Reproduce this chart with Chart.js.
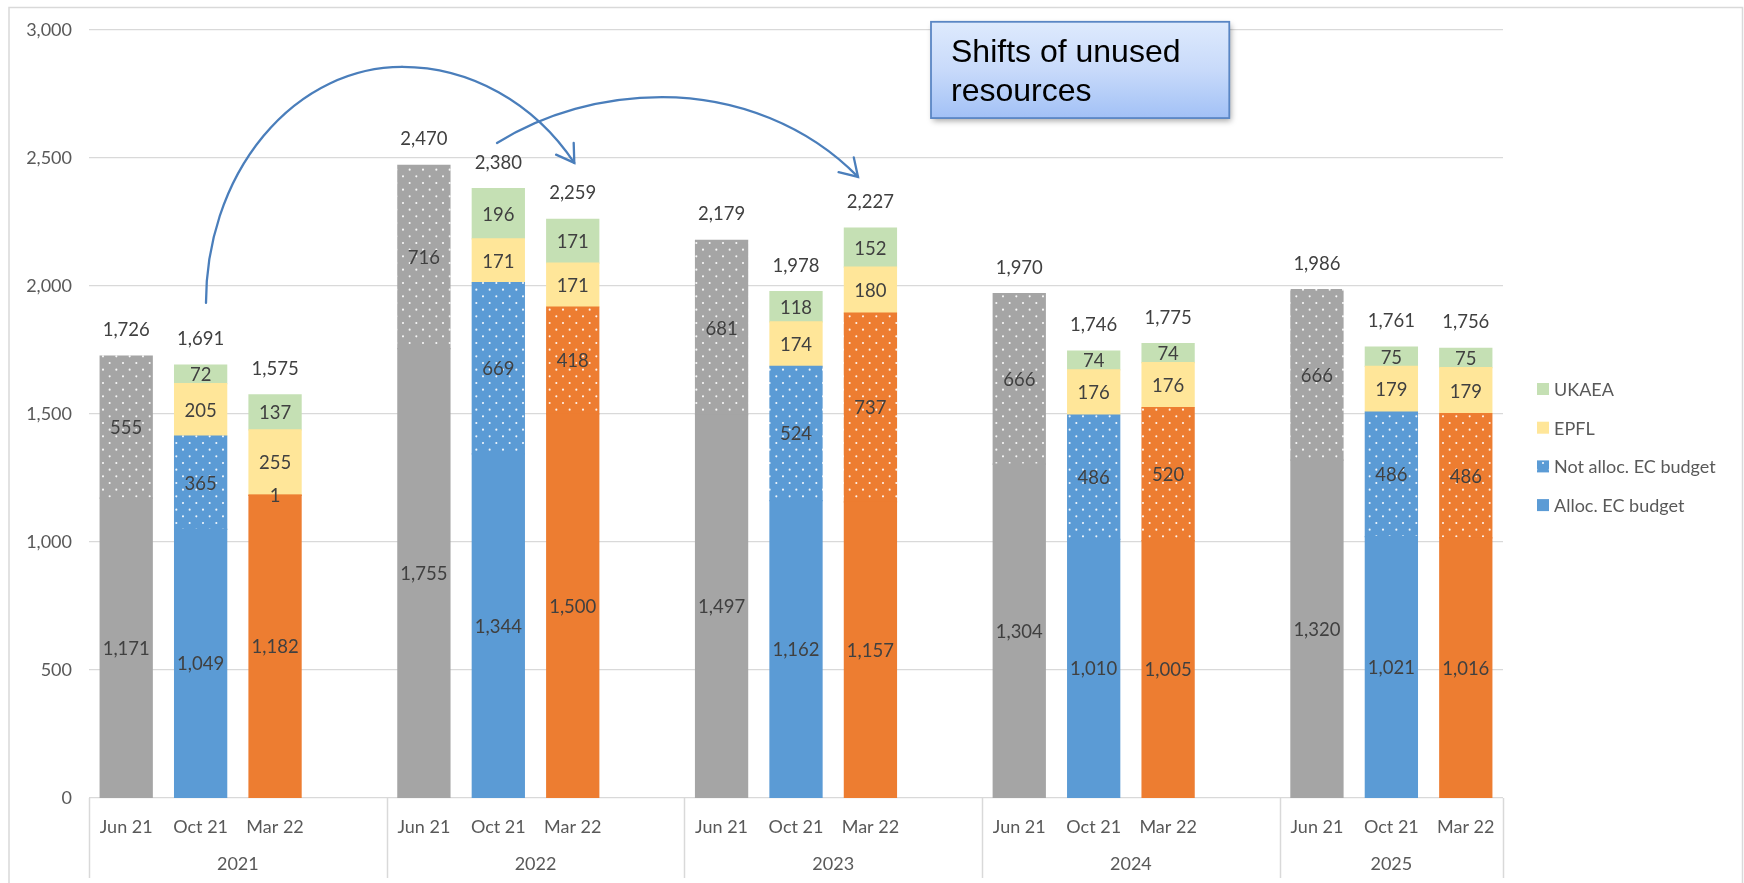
<!DOCTYPE html>
<html>
<head>
<meta charset="utf-8">
<script src="https://cdn.jsdelivr.net/npm/chart.js@4.4.1/dist/chart.umd.min.js"></script>
<style>
html,body{margin:0;padding:0;background:#fff;}
#wrap{width:1744px;height:883px;position:relative;}
</style>
</head>
<body>
<div id="wrap"><canvas id="c" width="1744" height="883"></canvas></div>
<script>
// ---------- DATA ----------
const years = ['2021', '2022', '2023', '2024', '2025'];
const periods = ['Jun 21', 'Oct 21', 'Mar 22'];
// 19 category slots: three periods per year, one empty slot between years
const categories = [
  'Jun 21', 'Oct 21', 'Mar 22', '',
  'Jun 21', 'Oct 21', 'Mar 22', '',
  'Jun 21', 'Oct 21', 'Mar 22', '',
  'Jun 21', 'Oct 21', 'Mar 22', '',
  'Jun 21', 'Oct 21', 'Mar 22'
];
const allocEC = [1171, 1049, 1182, null, 1755, 1344, 1500, null, 1497, 1162, 1157, null, 1304, 1010, 1005, null, 1320, 1021, 1016];
const notAllocEC = [555, 365, 1, null, 716, 669, 418, null, 681, 524, 737, null, 666, 486, 520, null, 666, 486, 486];
const epfl = [null, 205, 255, null, null, 171, 171, null, null, 174, 180, null, null, 176, 176, null, null, 179, 179];
const ukaea = [null, 72, 137, null, null, 196, 171, null, null, 118, 152, null, null, 74, 74, null, null, 75, 75];
const totals = [1726, 1691, 1575, null, 2470, 2380, 2259, null, 2179, 1978, 2227, null, 1970, 1746, 1775, null, 1986, 1761, 1756];
const seriesNames = ['Alloc. EC budget', 'Not alloc. EC budget', 'EPFL', 'UKAEA'];
const yMax = 3000, yStep = 500;

// ---------- STYLE ----------
const GRAY = '#A5A5A5', BLUE = '#5B9BD5', ORANGE = '#ED7D31';
const YELLOW = '#FFE699', GREEN = '#C5E0B4';
const periodColors = [GRAY, BLUE, ORANGE];
const FONT = 'Lato, "Open Sans", sans-serif';
const AXIS_TXT = '#595959', LBL_TXT = '#404040', GRID = '#d9d9d9';

const canvas = document.getElementById('c');
const ctx0 = canvas.getContext('2d');

function dotPattern(color) {
  const s = 40 / 3;
  const c = document.createElement('canvas');
  c.width = 40; c.height = 40;
  const g = c.getContext('2d');
  g.fillStyle = color; g.fillRect(0, 0, 40, 40);
  g.fillStyle = 'rgba(255,255,255,0.92)';
  for (let i = 0; i < 3; i++) for (let j = 0; j < 3; j++) {
    g.beginPath(); g.arc(i * s + 3, j * s + 3, 1.05, 0, Math.PI * 2); g.fill();
    g.beginPath(); g.arc(i * s + 3 + s / 2, j * s + 3 + s / 2, 1.05, 0, Math.PI * 2); g.fill();
  }
  return ctx0.createPattern(c, 'repeat');
}
const patterns = periodColors.map(dotPattern);
const slotColor = i => periodColors[i % 4] || GRAY;
const slotPattern = i => patterns[i % 4] || patterns[0];

const fmt = v => Number(v).toLocaleString('en-US');

// annotation geometry (x in category-slot units, y in value units)
const arrowDefs = [
  { cx: 3.706, cy: 1934, ry: 922, rxL: 2.634, rxR: 2.876, a0: Math.PI, a1: 5.648 },
  { cx: 7.20, cy: 1828, ry: 910, rxL: 3.722, rxR: 3.494, a0: 4.074, a1: 5.566 }
];
const noteBox = { x0: 10.814, x1: 14.822, v0: 3032, v1: 2656, lines: ['Shifts of unused', 'resources'] };

// ---------- PLUGINS ----------
const framePlugin = {
  id: 'frame',
  beforeDraw(chart) {
    const c = chart.ctx;
    c.save();
    c.fillStyle = '#fff'; c.fillRect(0, 0, chart.width, chart.height);
    c.strokeStyle = '#d9d9d9'; c.lineWidth = 1.5;
    c.strokeRect(9, 7.5, chart.width - 10.5, chart.height + 20);
    c.restore();
  }
};

const labelPlugin = {
  id: 'valueLabels',
  afterDatasetsDraw(chart) {
    const c = chart.ctx;
    const xs = chart.scales.x, ys = chart.scales.y;
    c.save();
    c.font = '18.5px ' + FONT;
    c.fillStyle = LBL_TXT;
    c.textAlign = 'center';
    c.textBaseline = 'middle';
    chart.data.datasets.forEach((ds, di) => {
      const meta = chart.getDatasetMeta(di);
      meta.data.forEach((el, i) => {
        const v = ds.data[i];
        if (v == null) return;
        const p = el.getProps(['x', 'y', 'base'], true);
        c.fillText(fmt(v), p.x, (p.y + p.base) / 2 + 1);
      });
    });
    totals.forEach((t, i) => {
      if (t == null) return;
      const sum = (allocEC[i] || 0) + (notAllocEC[i] || 0) + (epfl[i] || 0) + (ukaea[i] || 0);
      c.fillText(fmt(t), xs.getPixelForValue(i), ys.getPixelForValue(sum) - 26);
    });
    c.restore();
  }
};

const groupAxisPlugin = {
  id: 'groupAxis',
  afterDraw(chart) {
    const c = chart.ctx, xs = chart.scales.x, a = chart.chartArea;
    const bounds = [a.left];
    for (let k = 1; k < years.length; k++) {
      bounds.push((xs.getPixelForValue(4 * k - 1) + xs.getPixelForValue(4 * k)) / 2);
    }
    bounds.push(a.right);
    c.save();
    c.strokeStyle = GRID; c.lineWidth = 1.5;
    bounds.forEach(b => {
      const bx = Math.round(b) + 0.5;
      c.beginPath(); c.moveTo(bx, a.bottom); c.lineTo(bx, chart.height - 5); c.stroke();
    });
    c.font = '18px ' + FONT; c.fillStyle = AXIS_TXT;
    c.textAlign = 'center'; c.textBaseline = 'middle';
    years.forEach((y, k) => c.fillText(y, (bounds[k] + bounds[k + 1]) / 2, a.bottom + 66));
    c.restore();
  }
};

const legendPlugin = {
  id: 'sideLegend',
  afterDraw(chart) {
    const c = chart.ctx, a = chart.chartArea;
    const items = [
      { name: seriesNames[3], fill: GREEN },
      { name: seriesNames[2], fill: YELLOW },
      { name: seriesNames[1], fill: patterns[1] },
      { name: seriesNames[0], fill: BLUE }
    ];
    c.save();
    c.font = '18px ' + FONT; c.fillStyle = AXIS_TXT;
    c.textAlign = 'left'; c.textBaseline = 'middle';
    const x = a.right + 34;
    items.forEach((it, i) => {
      const y = 389 + i * 38.7;
      c.fillStyle = it.fill;
      c.fillRect(x, y - 6, 12, 12);
      c.fillStyle = AXIS_TXT;
      c.fillText(it.name, x + 17, y + 1);
    });
    c.restore();
  }
};

const annotationPlugin = {
  id: 'annotations',
  afterDraw(chart) {
    const c = chart.ctx, xs = chart.scales.x, ys = chart.scales.y;
    const px = v => xs.getPixelForValue(v);
    const py = v => ys.getPixelForValue(v);
    c.save();
    c.strokeStyle = '#4A7EBB'; c.lineWidth = 2.3; c.lineCap = 'round';
    arrowDefs.forEach(d => {
      const cx = px(d.cx), cy = py(d.cy);
      const ry = cy - py(d.cy + d.ry);
      const rxL = px(d.cx + d.rxL) - cx, rxR = px(d.cx + d.rxR) - cx;
      c.beginPath(); c.ellipse(cx, cy, rxL, ry, 0, d.a0, Math.PI * 1.5); c.stroke();
      c.beginPath(); c.ellipse(cx, cy, rxR, ry, 0, Math.PI * 1.5, d.a1); c.stroke();
      const ex = cx + rxR * Math.cos(d.a1), ey = cy + ry * Math.sin(d.a1);
      const tx = -rxR * Math.sin(d.a1), ty = ry * Math.cos(d.a1);
      const back = Math.atan2(-ty, -tx);
      const L = 20, h = 32 * Math.PI / 180;
      c.beginPath();
      c.moveTo(ex + L * Math.cos(back + h), ey + L * Math.sin(back + h));
      c.lineTo(ex, ey);
      c.lineTo(ex + L * Math.cos(back - h), ey + L * Math.sin(back - h));
      c.stroke();
    });
    // note box
    const bx0 = px(noteBox.x0), bx1 = px(noteBox.x1), by0 = py(noteBox.v0), by1 = py(noteBox.v1);
    const grad = c.createLinearGradient(0, by0, 0, by1);
    grad.addColorStop(0, '#DEEAFD');
    grad.addColorStop(0.5, '#C8DAFA');
    grad.addColorStop(1, '#A2C1F6');
    c.save();
    c.shadowColor = 'rgba(0,0,0,0.35)'; c.shadowBlur = 6; c.shadowOffsetX = 2; c.shadowOffsetY = 3;
    c.fillStyle = grad;
    c.fillRect(bx0, by0, bx1 - bx0, by1 - by0);
    c.restore();
    c.strokeStyle = '#5A86C4'; c.lineWidth = 1.8;
    c.strokeRect(bx0, by0, bx1 - bx0, by1 - by0);
    c.fillStyle = '#000';
    c.font = '32px "Liberation Sans", Arial, sans-serif';
    c.textAlign = 'left'; c.textBaseline = 'alphabetic';
    noteBox.lines.forEach((t, i) => c.fillText(t, bx0 + 20, by0 + 40 + i * 39));
    c.restore();
  }
};

// ---------- CHART ----------
new Chart(canvas, {
  type: 'bar',
  data: {
    labels: categories,
    datasets: [
      { label: seriesNames[0], data: allocEC, backgroundColor: categories.map((_, i) => slotColor(i)), stack: 's' },
      { label: seriesNames[1], data: notAllocEC, backgroundColor: categories.map((_, i) => slotPattern(i)), stack: 's' },
      { label: seriesNames[2], data: epfl, backgroundColor: YELLOW, stack: 's' },
      { label: seriesNames[3], data: ukaea, backgroundColor: GREEN, stack: 's' }
    ]
  },
  options: {
    responsive: false,
    animation: false,
    devicePixelRatio: 1,
    layout: { padding: { top: 30, left: 0, right: 241, bottom: 0 } },
    datasets: { bar: { categoryPercentage: 1, barPercentage: 0.7, borderWidth: 0, inflateAmount: 0.6 } },
    plugins: { legend: { display: false }, tooltip: { enabled: false } },
    scales: {
      x: {
        stacked: true,
        grid: { display: false, drawTicks: false },
        border: { display: false },
        ticks: { autoSkip: false, maxRotation: 0, minRotation: 0, padding: 18, color: AXIS_TXT, font: { family: FONT, size: 18 } },
        afterFit: s => { s.height = 85; }
      },
      y: {
        stacked: true,
        min: 0, max: yMax,
        grid: { color: GRID, lineWidth: 1.3, drawTicks: false },
        border: { display: false },
        ticks: { stepSize: yStep, padding: 17, color: AXIS_TXT, font: { family: FONT, size: 18 }, callback: v => fmt(v) },
        afterFit: s => { s.width = 89; }
      }
    }
  },
  plugins: [framePlugin, labelPlugin, groupAxisPlugin, legendPlugin, annotationPlugin]
});
</script>
</body>
</html>
